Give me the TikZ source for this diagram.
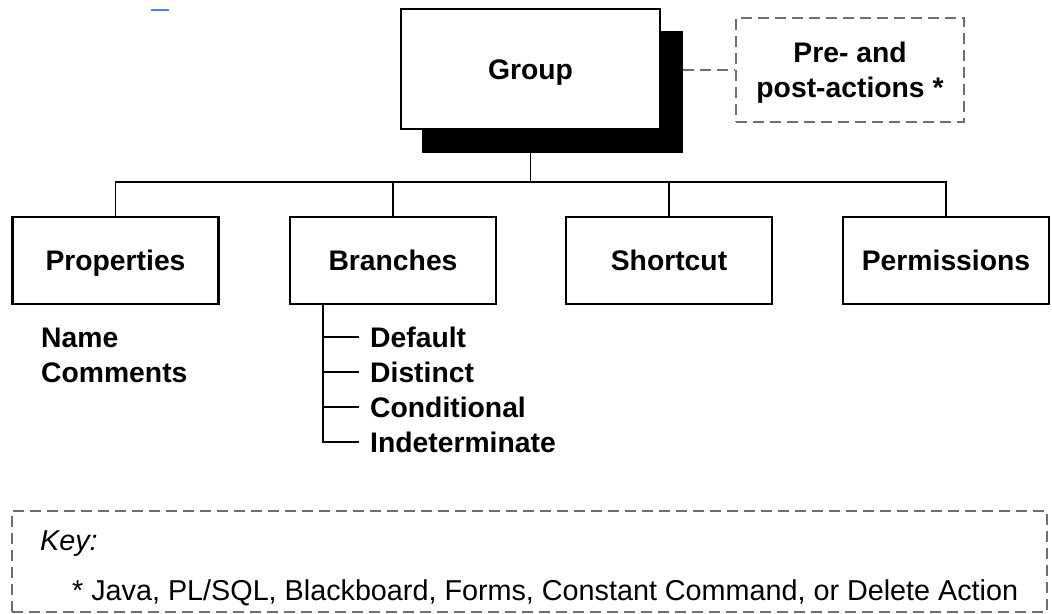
\documentclass[tikz,border=0pt]{standalone}
\usepackage{fontspec}
\setmainfont{Liberation Sans}
\definecolor{dashgray}{RGB}{110,110,110}
\definecolor{linkblue}{RGB}{84,130,204}
\tikzset{
  box/.style={draw, line width=2.2pt, fill=white, inner sep=0pt,
    minimum width=206pt, minimum height=87pt, text height=20.3pt, text depth=0pt,
    font=\bfseries\fontsize{28.3}{34}\selectfont},
  dashbox/.style={draw=dashgray, line width=2pt, dash pattern=on 11pt off 6pt, inner sep=0pt},
  item/.style={anchor=west, inner sep=0pt, text height=20pt, text depth=0pt,
    font=\bfseries\fontsize{28.3}{34}\selectfont},
  keytext/.style={anchor=west, inner sep=0pt, text height=20pt, text depth=0pt,
    font=\fontsize{28.75}{34}\selectfont},
  conn/.style={draw, line width=1.6pt},
  dashconn/.style={draw=dashgray, line width=2.2pt, dash pattern=on 11pt off 6pt},
}
\begin{document}
\begin{tikzpicture}[x=1pt,y=-1pt]
\useasboundingbox (0,0) rectangle (1052,613);
% small blue mark
\draw[linkblue, line width=2pt] (151,9.5) -- (169,9.5);
% group with shadow
\node[fill=black, inner sep=0pt, minimum width=261pt, minimum height=122pt] (shadow) at (552.5,92) {};
\node[box, minimum width=259pt, minimum height=120pt] (group) at (530.5,69) {Group};
\node[dashbox, minimum width=228pt, minimum height=104pt, align=center,
  font=\bfseries\fontsize{28.3}{35}\selectfont] (pre) at (850,70) {};
\node[inner sep=0pt, align=center, font=\bfseries\fontsize{28.3}{35}\selectfont] (pretext) at (850,72.5) {Pre- and\\post-actions *};
\draw[dashconn] (shadow.east |- pre.west) -- (pre.west);
% children
\node[box] (prop) at (115.5,260.5) {Properties};
\node[box] (branch) at (393,260.5) {Branches};
\node[box] (short) at (669,260.5) {Shortcut};
\node[box] (perm) at (946,260.5) {Permissions};
\coordinate (bus) at (530.5,182);
\draw[conn] (group.south |- shadow.south) -- (bus);
\draw[conn] (prop.north) |- (bus) -| (perm.north);
\draw[conn] (branch.north) -- (branch.north |- bus);
\draw[conn] (short.north) -- (short.north |- bus);
% properties items
\node[item] (name) at (41,337) {Name};
\node[item] (comments) at (41,372) {Comments};
% branches items
\node[item] (def) at (370,337) {Default};
\node[item] (dist) at (370,372) {Distinct};
\node[item] (cond) at (370,407) {Conditional};
\node[item] (ind) at (370,442) {Indeterminate};
\coordinate (trunk) at ([xshift=34pt]branch.south west);
\draw[line width=2pt] (trunk) |- ([xshift=-11pt]ind.west);
\draw[line width=1.6pt] (trunk |- def.west) -- ([xshift=-11pt]def.west);
\draw[line width=1.6pt] (trunk |- dist.west) -- ([xshift=-11pt]dist.west);
\draw[line width=1.6pt] (trunk |- cond.west) -- ([xshift=-11pt]cond.west);
% key
\node[dashbox, minimum width=1035pt, minimum height=101pt] (key) at (529.5,561.5) {};
\node[keytext, font=\itshape\fontsize{28.75}{34}\selectfont] (keyt) at (40,540) {Key:};
\node[keytext] (keyline) at (72,590) {* Java, PL/SQL, Blackboard, Forms, Constant Command, or Delete Action};
\end{tikzpicture}
\end{document}
